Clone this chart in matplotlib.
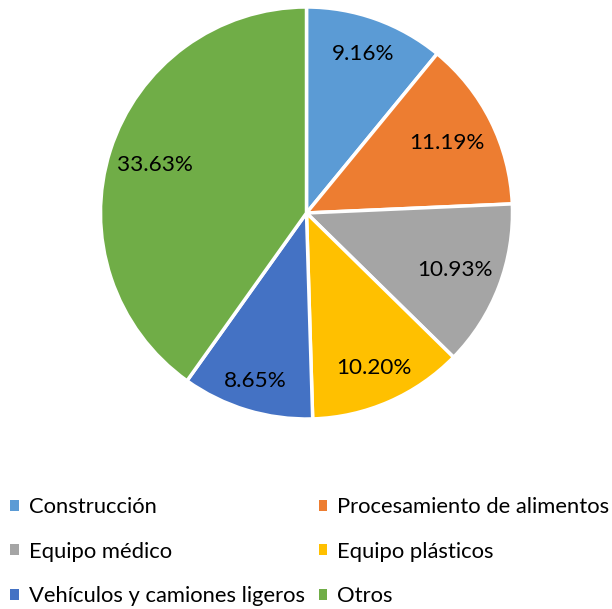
import numpy as np
import matplotlib.pyplot as plt

categories = ["Construcción", "Procesamiento de alimentos", "Equipo médico",
              "Equipo plásticos", "Vehículos y camiones ligeros", "Otros"]
values = [9.16, 11.19, 10.93, 10.20, 8.65, 33.63]
colors = ["#5B9BD5", "#ED7D31", "#A5A5A5", "#FFC000", "#4472C4", "#70AD47"]
label_dist = [0.82, 0.76, 0.77, 0.82, 0.85, 0.77]

plt.rcParams['font.family'] = ['Lato', 'DejaVu Sans']

fig = plt.figure(figsize=(6.12, 6.09), dpi=100)
cx, cy, r = 306.5 / 612, 1 - 213 / 609, 206
ax = fig.add_axes([cx - r / 612, cy - r / 609, 2 * r / 612, 2 * r / 609])
labels_txt = [f"{v:.2f}%" for v in values]
wedges, texts = ax.pie(values, colors=colors, startangle=90, counterclock=False,
                       labels=labels_txt, labeldistance=0.79,
                       wedgeprops=dict(edgecolor="white", linewidth=2.5),
                       textprops=dict(fontsize=16.2, color="black", ha="center", va="center"))
for w, t, d in zip(wedges, texts, label_dist):
    ang = np.deg2rad((w.theta1 + w.theta2) / 2)
    t.set_position((d * np.cos(ang), d * np.sin(ang)))
    t.set_ha("center")
    t.set_va("center")
ax.set_xlim(-1, 1)
ax.set_ylim(-1, 1)
ax.set_aspect("equal")
ax.axis("off")

order = [0, 2, 4, 1, 3, 5]
leg = fig.legend([wedges[i] for i in order], [categories[i] for i in order],
                 ncol=2, loc="upper left",
                 bbox_to_anchor=(0.017, 1 - 497 / 609), frameon=False,
                 fontsize=15.8, handlelength=0.4, handleheight=0.4,
                 handletextpad=0.45, columnspacing=0.62, labelspacing=1.12,
                 borderaxespad=0, borderpad=0)
for h in leg.legend_handles:
    h.set_edgecolor("none")

fig.savefig("out.png", dpi=100)
